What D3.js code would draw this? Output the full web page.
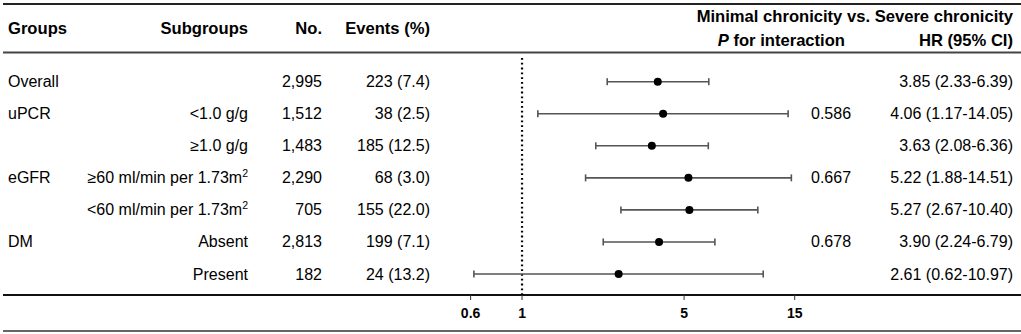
<!DOCTYPE html>
<html lang="en">
<head>
    <meta charset="UTF-8">
    <title>Forest plot - Minimal vs. Severe chronicity</title>
    <script src="https://d3js.org/d3.v7.min.js"></script>
    <style>
        body {
            margin: 0;
            background: #fff;
            font-family: 'Liberation Sans', Arial, sans-serif;
        }
        text {
            fill: #000;
        }
        .head {
            font-size: 16.6px;
            font-weight: bold;
        }
        .cell {
            font-size: 16px;
        }
        .rule {
            stroke: #333;
            stroke-width: 2;
        }
        .ci {
            stroke: #555;
            stroke-width: 1.6;
        }
        .tick-label {
            font-size: 14px;
            font-weight: bold;
        }
    </style>
</head>
<body>
    <svg width="1021" height="334"></svg>
    <script>
        const groups = ["Overall", "uPCR", "", "eGFR", "", "DM", ""];
        const subgroups = ["", "<1.0 g/g", "\u22651.0 g/g", "\u226560 ml/min per 1.73m", "<60 ml/min per 1.73m", "Absent", "Present"];
        const superscripts = ["", "", "", "2", "2", "", ""];
        const counts = ["2,995", "1,512", "1,483", "2,290", "705", "2,813", "182"];
        const events = ["223 (7.4)", "38 (2.5)", "185 (12.5)", "68 (3.0)", "155 (22.0)", "199 (7.1)", "24 (13.2)"];
        const pValues = ["", "0.586", "", "0.667", "", "0.678", ""];
        const hr = [3.85, 4.06, 3.63, 5.22, 5.27, 3.90, 2.61];
        const lower = [2.33, 1.17, 2.08, 1.88, 2.67, 2.24, 0.62];
        const upper = [6.39, 14.05, 6.36, 14.51, 10.40, 6.79, 10.97];
        const ticks = [0.6, 1, 5, 15];

        const rows = hr.map((v, i) => ({
            i, group: groups[i], sub: subgroups[i], sup: superscripts[i],
            n: counts[i], ev: events[i], p: pValues[i],
            hr: v, lo: lower[i], hi: upper[i]
        }));

        const svg = d3.select("svg");
        const fmt = d3.format(".2f");

        // log scale for hazard ratios
        const x = d3.scaleLog()
            .domain([0.6, 15])
            .range([470.6, 794.7]);

        const y = d3.scaleLinear()
            .domain([0, rows.length - 1])
            .range([81.7, 274]);

        const axisY = 295;

        // horizontal rules
        [{ y: 4, c: "#222" }, { y: 52.5, c: "#444" }, { y: axisY, c: "#111" }, { y: 331, c: "#666" }]
            .forEach(r => {
                svg.append("line")
                    .attr("class", "rule")
                    .attr("x1", 3).attr("x2", 1021)
                    .attr("y1", r.y).attr("y2", r.y)
                    .style("stroke", r.c);
            });

        // header
        svg.append("text").attr("class", "head").attr("x", 8).attr("y", 34).text("Groups");
        svg.append("text").attr("class", "head").attr("x", 248).attr("y", 34)
            .attr("text-anchor", "end").text("Subgroups");
        svg.append("text").attr("class", "head").attr("x", 322).attr("y", 34)
            .attr("text-anchor", "end").text("No.");
        svg.append("text").attr("class", "head").attr("x", 430).attr("y", 34)
            .attr("text-anchor", "end").text("Events (%)");
        svg.append("text").attr("class", "head").attr("x", 1013).attr("y", 22)
            .attr("text-anchor", "end").text("Minimal chronicity vs. Severe chronicity");
        const pHead = svg.append("text").attr("class", "head").attr("x", 845).attr("y", 46)
            .attr("text-anchor", "end");
        pHead.append("tspan").style("font-style", "italic").text("P");
        pHead.append("tspan").text(" for interaction");
        svg.append("text").attr("class", "head").attr("x", 1013).attr("y", 46)
            .attr("text-anchor", "end").text("HR (95% CI)");

        // table rows
        const row = svg.selectAll(".row")
            .data(rows)
            .enter().append("g")
            .attr("class", "row")
            .attr("transform", d => `translate(0,${y(d.i) + 5.5})`);

        row.append("text").attr("class", "cell").attr("x", 8).text(d => d.group);

        const sub = row.append("text").attr("class", "cell")
            .attr("x", 248).attr("text-anchor", "end");
        sub.append("tspan").text(d => d.sub);
        sub.append("tspan")
            .attr("dy", -6)
            .style("font-size", "10.5px")
            .text(d => d.sup);

        row.append("text").attr("class", "cell").attr("x", 322)
            .attr("text-anchor", "end").text(d => d.n);
        row.append("text").attr("class", "cell").attr("x", 430)
            .attr("text-anchor", "end").text(d => d.ev);
        row.append("text").attr("class", "cell").attr("x", 811).text(d => d.p);
        row.append("text").attr("class", "cell").attr("x", 1013)
            .attr("text-anchor", "end")
            .text(d => `${fmt(d.hr)} (${fmt(d.lo)}-${fmt(d.hi)})`);

        // reference line at HR = 1
        svg.append("line")
            .attr("x1", x(1)).attr("x2", x(1))
            .attr("y1", 58).attr("y2", axisY)
            .attr("stroke", "#000")
            .attr("stroke-width", 2.2)
            .attr("stroke-dasharray", "1.8,3");

        // confidence intervals
        const ci = svg.selectAll(".ci-g")
            .data(rows)
            .enter().append("g")
            .attr("class", "ci-g");

        ci.append("line").attr("class", "ci")
            .attr("x1", d => x(d.lo)).attr("x2", d => x(d.hi))
            .attr("y1", d => y(d.i)).attr("y2", d => y(d.i));
        ci.append("line").attr("class", "ci")
            .attr("x1", d => x(d.lo)).attr("x2", d => x(d.lo))
            .attr("y1", d => y(d.i) - 3.5).attr("y2", d => y(d.i) + 3.5);
        ci.append("line").attr("class", "ci")
            .attr("x1", d => x(d.hi)).attr("x2", d => x(d.hi))
            .attr("y1", d => y(d.i) - 3.5).attr("y2", d => y(d.i) + 3.5);
        ci.append("circle")
            .attr("cx", d => x(d.hr))
            .attr("cy", d => y(d.i))
            .attr("r", 4)
            .attr("fill", "#000");

        // x axis ticks
        const axis = svg.append("g").attr("transform", `translate(0,${axisY})`);
        axis.selectAll(".tk")
            .data(ticks)
            .enter().append("line")
            .attr("x1", d => x(d)).attr("x2", d => x(d))
            .attr("y1", 0).attr("y2", 5)
            .attr("stroke", "#333")
            .attr("stroke-width", 1);
        axis.selectAll(".tick-label")
            .data(ticks)
            .enter().append("text")
            .attr("class", "tick-label")
            .attr("x", d => x(d))
            .attr("y", 23)
            .attr("text-anchor", "middle")
            .text(d => d);
    </script>
</body>
</html>
